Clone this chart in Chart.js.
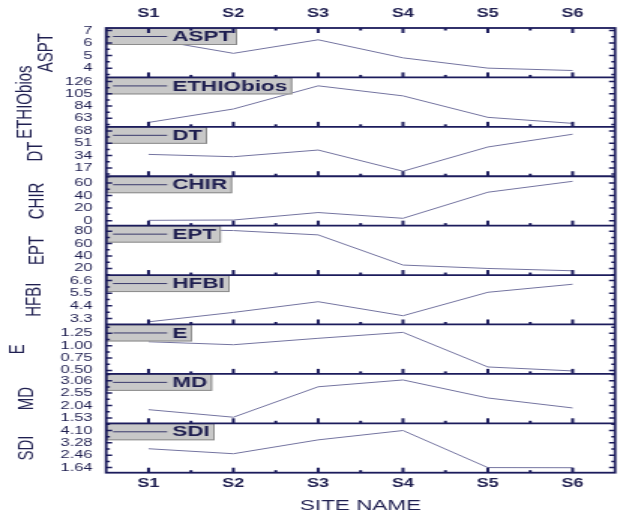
<!DOCTYPE html>
<html>
<head>
<meta charset="utf-8">
<title>Biotic indices by site</title>
<script src="https://cdn.jsdelivr.net/npm/chart.js@4.4.1/dist/chart.umd.min.js"></script>
<style>
  html, body { margin: 0; padding: 0; background: #ffffff; overflow: hidden; }
  #plot { display: block; transform: scaleX(1.5012); transform-origin: 0 0; }
</style>
</head>
<body>
<canvas id="plot" width="415" height="516"></canvas>
<script>
// Sampling sites along the x axis
const sites = ['S1', 'S2', 'S3', 'S4', 'S5', 'S6'];

// Index values per site
const aspt      = [6.34, 5.18, 6.26, 4.82, 4.00, 3.81];
const ethiobios = [56, 79, 118.6, 101.4, 64.7, 54.4];
const dt        = [35.6, 32.4, 41.6, 12.4, 45.8, 63.4];
const chir      = [0.5, 1, 12.9, 3.7, 45.3, 62.7];
const ept       = [83, 81, 74, 25.5, 20, 16.3];
const hfbi      = [3.01, 3.83, 4.76, 3.54, 5.58, 6.28];
const evenness  = [1.08, 1.02, 1.15, 1.27, 0.57, 0.49];
const md        = [1.87, 1.56, 2.81, 3.09, 2.35, 1.94];
const sdi       = [2.89, 2.56, 3.48, 4.10, 1.64, 1.63];

// Tick labels of each panel's value axis
const asptTicks  = ['4', '5', '6', '7'];
const ethioTicks = ['63', '84', '105', '126'];
const dtTicks    = ['17', '34', '51', '68'];
const chirTicks  = ['0', '20', '40', '60'];
const eptTicks   = ['20', '40', '60', '80'];
const hfbiTicks  = ['3.3', '4.4', '5.5', '6.6'];
const eTicks     = ['0.50', '0.75', '1.00', '1.25'];
const mdTicks    = ['1.53', '2.04', '2.55', '3.06'];
const sdiTicks   = ['1.64', '2.46', '3.28', '4.10'];

// Axis limits of each panel
const yLimits = [
  [3.26, 7.2], [48.5, 133], [5.5, 73.6], [-8, 70.8], [9.4, 88.9],
  [2.78, 7.08], [0.43, 1.43], [1.31, 3.34], [1.30, 4.58]
];

const seriesNames = ['ASPT', 'ETHIObios', 'DT', 'CHIR', 'EPT', 'HFBI', 'E', 'MD', 'SDI'];
const series = [aspt, ethiobios, dt, chir, ept, hfbi, evenness, md, sdi];
const tickLabels = [asptTicks, ethioTicks, dtTicks, chirTicks, eptTicks, hfbiTicks, eTicks, mdTicks, sdiTicks];

// Styling
const FONT = '"Liberation Sans", Arial, sans-serif';
const INK = '#1f1f50';
const FRAME = '#1c1c5c';
const TRACE = '#7474a0';
const titleX = [31.3, 17.3, 24, 24.7, 24.7, 23.3, 12, 18.3, 18.3];

const xTickCfg = (padding) => ({
  type: 'linear',
  min: 0.5,
  max: 6.5,
  afterBuildTicks: (s) => { s.ticks = sites.map((_, i) => ({ value: i + 1 })); },
  ticks: {
    callback: (v) => sites[Math.round(v) - 1],
    font: { family: FONT, size: 12, weight: 'bold' },
    color: INK,
    padding: padding,
    autoSkip: false,
    maxRotation: 0
  },
  grid: { display: false, drawTicks: false },
  border: { display: false }
});

const scales = {
  x: Object.assign(xTickCfg(4.2), {
    position: 'bottom',
    title: {
      display: true, text: 'SITE NAME', color: INK,
      font: { family: FONT, size: 15 }, padding: { top: 0, bottom: 1.5 }
    },
    afterFit: (s) => { s.height = 43.3; }
  }),
  x2: Object.assign(xTickCfg(6.8), {
    position: 'top',
    afterFit: (s) => { s.height = 28; }
  })
};

// Stacked value axes; the first one registered sits at the bottom, so register from the last panel up
for (let k = seriesNames.length - 1; k >= 0; k--) {
  scales['y' + k] = {
    type: 'linear',
    position: 'left',
    stack: 'panels',
    stackWeight: 1,
    min: yLimits[k][0],
    max: yLimits[k][1],
    afterBuildTicks: (s) => { s.ticks = tickLabels[k].map(t => ({ value: parseFloat(t) })); },
    ticks: {
      callback: (v) => tickLabels[k].find(t => Math.abs(parseFloat(t) - v) < 1e-9),
      font: { family: FONT, size: 11 },
      color: INK,
      padding: 9,
      autoSkip: false
    },
    grid: { display: false, drawTicks: false },
    border: { display: false },
    afterFit: (s) => { s.width = 70.7; }
  };
}

const datasets = series.map((vals, k) => ({
  label: seriesNames[k],
  data: vals.map((v, i) => ({ x: i + 1, y: v })),
  xAxisID: 'x',
  yAxisID: 'y' + k,
  borderColor: TRACE,
  borderWidth: 1,
  pointRadius: 0,
  fill: false,
  tension: 0
}));

// Frame, inward ticks, per-panel legend boxes and rotated axis titles
const panelDecor = {
  id: 'panelDecor',
  afterDatasetsDraw(chart) {
    const ctx = chart.ctx;
    const ca = chart.chartArea;
    const xs = chart.scales.x;
    ctx.save();

    seriesNames.forEach((name, k) => {
      const ys = chart.scales['y' + k];
      // legend box
      ctx.font = 'bold 15px ' + FONT;
      const tw = ctx.measureText(name).width;
      const bx = ca.left, by = ys.top, bw = 47.3 + tw, bh = 17;
      ctx.fillStyle = '#c8c8c8';
      ctx.fillRect(bx, by, bw, bh);
      ctx.strokeStyle = '#8c8c8c';
      ctx.lineWidth = 1;
      ctx.strokeRect(bx + 0.5, by + 0.5, bw - 1, bh - 1);
      ctx.strokeStyle = '#3a3a6c';
      ctx.beginPath();
      ctx.moveTo(bx + 4.6, by + bh / 2);
      ctx.lineTo(bx + 40.6, by + bh / 2);
      ctx.stroke();
      ctx.fillStyle = INK;
      ctx.textAlign = 'left';
      ctx.textBaseline = 'middle';
      ctx.fillText(name, bx + 44, by + bh / 2 + 0.5);

      // rotated axis title
      ctx.save();
      ctx.translate(titleX[k], (ys.top + ys.bottom) / 2);
      ctx.rotate(-Math.PI / 2);
      ctx.font = '15px ' + FONT;
      ctx.textAlign = 'center';
      ctx.textBaseline = 'middle';
      ctx.fillText(name, 0, 0);
      ctx.restore();

      // y ticks, left and right, pointing inward
      ctx.strokeStyle = FRAME;
      ctx.lineWidth = 1.5;
      const vals = ys.ticks.map(t => t.value);
      const half = (vals[1] - vals[0]) / 2;
      for (let j = -20; j <= 20; j++) {
        const v = vals[0] + j * half;
        if (v <= ys.min || v >= ys.max) continue;
        const py = ys.getPixelForValue(v);
        const len = (j % 2 === 0) ? 4 : 2.5;
        ctx.beginPath();
        ctx.moveTo(ca.left, py); ctx.lineTo(ca.left + len, py);
        ctx.moveTo(ca.right, py); ctx.lineTo(ca.right - len, py);
        ctx.stroke();
      }

      // x ticks at panel bottom, pointing up
      ctx.lineWidth = 2;
      for (let j = 0; j <= 10; j++) {
        const v = 1 + j * 0.5;
        const px = xs.getPixelForValue(v);
        const len = (j % 2 === 0) ? 5 : 2.5;
        ctx.beginPath();
        ctx.moveTo(px, ys.bottom); ctx.lineTo(px, ys.bottom - len);
        ctx.stroke();
      }
    });

    // x ticks along the top edge, pointing down
    ctx.strokeStyle = FRAME;
    ctx.lineWidth = 2;
    for (let j = 0; j <= 10; j++) {
      const v = 1 + j * 0.5;
      const px = xs.getPixelForValue(v);
      const len = (j % 2 === 0) ? 5 : 2.5;
      ctx.beginPath();
      ctx.moveTo(px, ca.top); ctx.lineTo(px, ca.top + len);
      ctx.stroke();
    }

    // panel separators
    ctx.lineWidth = 1.8;
    seriesNames.forEach((_, k) => {
      if (k === seriesNames.length - 1) return;
      const ys = chart.scales['y' + k];
      ctx.beginPath();
      ctx.moveTo(ca.left, ys.bottom); ctx.lineTo(ca.right, ys.bottom);
      ctx.stroke();
    });

    // outer frame
    ctx.lineWidth = 1.8;
    ctx.strokeRect(ca.left, ca.top, ca.right - ca.left, ca.bottom - ca.top);
    ctx.restore();
  }
};

new Chart(document.getElementById('plot'), {
  type: 'line',
  data: { datasets },
  options: {
    responsive: false,
    devicePixelRatio: 1,
    animation: false,
    layout: { padding: { left: 0, right: 5.3, top: 0, bottom: 0 } },
    plugins: { legend: { display: false }, tooltip: { enabled: false } },
    scales
  },
  plugins: [panelDecor]
});
</script>
</body>
</html>
